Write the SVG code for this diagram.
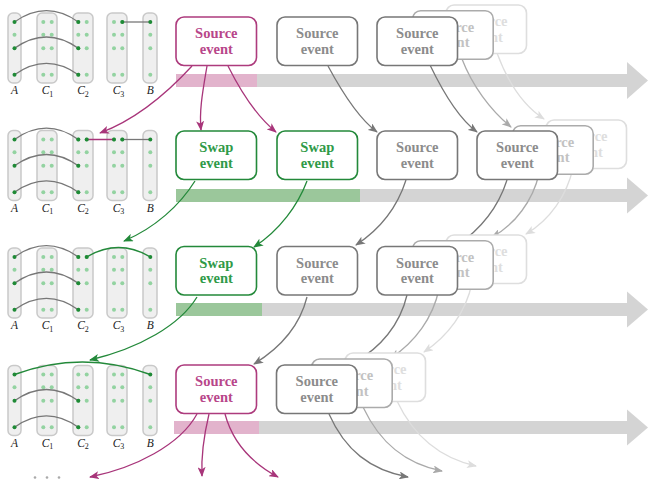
<svg xmlns="http://www.w3.org/2000/svg" xmlns:xlink="http://www.w3.org/1999/xlink" width="649" height="480" viewBox="0 0 649 480">
<style>
.col{fill:#efefef;stroke:#c9c9c9;stroke-width:1.5}
.ld{fill:#93d3a1}
.dd{fill:#1f8a36}
.arc{fill:none;stroke:#777;stroke-width:1.3}
.lab{font-family:"Liberation Serif",serif;font-style:italic;font-size:11.5px;fill:#222;text-anchor:middle}
.sub{font-style:normal;font-size:8px}
.bar{fill:#d4d4d4}
.box rect{fill:#fff;stroke-width:1.6}
.box text{font-family:"Liberation Serif",serif;font-weight:bold;font-size:14.5px;text-anchor:middle}
.mag rect{stroke:#ad3b7d}.mag text{fill:#b8468a}
.grn rect{stroke:#23893a}.grn text{fill:#2f9a48}
.dk rect{stroke:#777}.dk text{fill:#8c8c8c}
.md rect{stroke:#ababab}.md text{fill:#c2c2c2}
.lt rect{stroke:#dedede}.lt text{fill:#dedede}
.c{fill:none;stroke-width:1.3}
.cm{stroke:#a8357a;marker-end:url(#am)}
.cg{stroke:#23893a;marker-end:url(#ag)}
.cd{stroke:#777;marker-end:url(#ad)}
.cmid{stroke:#aaa;marker-end:url(#ami)}
.cl{stroke:#ddd;marker-end:url(#al)}
</style>
<defs>
<marker id="am" markerUnits="userSpaceOnUse" markerWidth="10" markerHeight="8" refX="9" refY="4" orient="auto"><path d="M0,0 L10,4 L0,8 L2.5,4 z" fill="#a8357a"/></marker>
<marker id="ag" markerUnits="userSpaceOnUse" markerWidth="10" markerHeight="8" refX="9" refY="4" orient="auto"><path d="M0,0 L10,4 L0,8 L2.5,4 z" fill="#23893a"/></marker>
<marker id="ad" markerUnits="userSpaceOnUse" markerWidth="10" markerHeight="8" refX="9" refY="4" orient="auto"><path d="M0,0 L10,4 L0,8 L2.5,4 z" fill="#777"/></marker>
<marker id="ami" markerUnits="userSpaceOnUse" markerWidth="10" markerHeight="8" refX="9" refY="4" orient="auto"><path d="M0,0 L10,4 L0,8 L2.5,4 z" fill="#aaa"/></marker>
<marker id="al" markerUnits="userSpaceOnUse" markerWidth="10" markerHeight="8" refX="9" refY="4" orient="auto"><path d="M0,0 L10,4 L0,8 L2.5,4 z" fill="#ddd"/></marker>
<g id="panel">
<rect class="col" x="8" y="0" width="13" height="70" rx="5"/>
<rect class="col" x="37" y="0" width="20" height="70" rx="5"/>
<rect class="col" x="73" y="0" width="20" height="70" rx="5"/>
<rect class="col" x="107" y="0" width="20" height="70" rx="5"/>
<rect class="col" x="143" y="0" width="14" height="70" rx="5"/>
<g class="ld">
<circle cx="14.5" cy="21.7" r="2"/>
<circle cx="43.3" cy="9" r="2"/><circle cx="51.7" cy="9" r="2"/><circle cx="43.3" cy="21.7" r="2"/><circle cx="51.7" cy="21.7" r="2"/><circle cx="43.3" cy="35.3" r="2"/><circle cx="51.7" cy="35.3" r="2"/><circle cx="43.3" cy="61.7" r="2"/><circle cx="51.7" cy="61.7" r="2"/>
<circle cx="78.3" cy="9" r="2"/><circle cx="86.7" cy="9" r="2"/><circle cx="78.3" cy="21.7" r="2"/><circle cx="86.7" cy="21.7" r="2"/><circle cx="78.3" cy="35.3" r="2"/><circle cx="86.7" cy="35.3" r="2"/><circle cx="78.3" cy="61.7" r="2"/><circle cx="86.7" cy="61.7" r="2"/>
<circle cx="114" cy="9" r="2"/><circle cx="122.3" cy="9" r="2"/><circle cx="114" cy="21.7" r="2"/><circle cx="122.3" cy="21.7" r="2"/><circle cx="114" cy="35.3" r="2"/><circle cx="122.3" cy="35.3" r="2"/><circle cx="114" cy="61.7" r="2"/><circle cx="122.3" cy="61.7" r="2"/>
<circle cx="150.3" cy="21.7" r="2"/><circle cx="150.3" cy="35.3" r="2"/><circle cx="150.3" cy="61.7" r="2"/>
</g>
<text class="lab" x="14.5" y="81">A</text>
<text class="lab" x="47.5" y="81">C<tspan class="sub" dy="2.5">1</tspan></text>
<text class="lab" x="83" y="81">C<tspan class="sub" dy="2.5">2</tspan></text>
<text class="lab" x="118.5" y="81">C<tspan class="sub" dy="2.5">3</tspan></text>
<text class="lab" x="150.3" y="81">B</text>
</g>
<path id="a1" class="arc" d="M14.5,9 Q46.4,-13.6 78.3,9"/>
<path id="a2" class="arc" d="M14.5,35.3 Q46.4,12.7 78.3,35.3"/>
<path id="a3" class="arc" d="M14.5,61.7 Q46.4,39 78.3,61.7"/>
</defs>

<g id="bars">
<rect class="bar" x="176" y="74" width="452" height="13"/><path class="bar" d="M627,62 L648,80.5 L627,99 z"/>
<rect x="176" y="74" width="81" height="13" fill="#e2b3cc"/>
<rect class="bar" x="176" y="189" width="452" height="13"/><path class="bar" d="M627,177.5 L648,195.5 L627,213.5 z"/>
<rect x="176" y="189" width="184" height="13" fill="#9bc79b"/>
<rect class="bar" x="176" y="303" width="452" height="13"/><path class="bar" d="M627,291.5 L648,309.5 L627,327.5 z"/>
<rect x="176" y="303" width="86" height="13" fill="#9bc79b"/>
<rect class="bar" x="174" y="421" width="454" height="13"/><path class="bar" d="M627,409.5 L648,427.5 L627,445.5 z"/>
<rect x="174" y="421" width="85" height="13" fill="#e2b3cc"/>
</g>

<g id="state1" transform="translate(0,13)">
<use xlink:href="#panel"/>
<use xlink:href="#a1"/><use xlink:href="#a2"/><use xlink:href="#a3"/>
<line class="arc" x1="122.3" y1="9" x2="150.3" y2="9"/>
<g class="dd"><circle cx="14.5" cy="9" r="2"/><circle cx="14.5" cy="35.3" r="2"/><circle cx="14.5" cy="61.7" r="2"/><circle cx="78.3" cy="9" r="2"/><circle cx="78.3" cy="35.3" r="2"/><circle cx="78.3" cy="61.7" r="2"/><circle cx="122.3" cy="9" r="2"/><circle cx="150.3" cy="9" r="2"/></g>
</g>
<g id="state2" transform="translate(0,130.5)">
<use xlink:href="#panel"/>
<use xlink:href="#a1"/><use xlink:href="#a2"/><use xlink:href="#a3"/>
<line x1="86.7" y1="9" x2="114" y2="9" stroke="#a8357a" stroke-width="1.5"/>
<line class="arc" x1="122.3" y1="9" x2="150.3" y2="9"/>
<g class="dd"><circle cx="14.5" cy="9" r="2"/><circle cx="14.5" cy="35.3" r="2"/><circle cx="14.5" cy="61.7" r="2"/><circle cx="78.3" cy="9" r="2"/><circle cx="78.3" cy="35.3" r="2"/><circle cx="78.3" cy="61.7" r="2"/><circle cx="86.7" cy="9" r="2"/><circle cx="114" cy="9" r="2"/><circle cx="122.3" cy="9" r="2"/><circle cx="150.3" cy="9" r="2"/></g>
</g>
<g id="state3" transform="translate(0,248)">
<use xlink:href="#panel"/>
<use xlink:href="#a1"/><use xlink:href="#a2"/><use xlink:href="#a3"/>
<path d="M86.7,9 Q118.5,-10 150.3,9" fill="none" stroke="#23893a" stroke-width="1.4"/>
<g class="dd"><circle cx="14.5" cy="9" r="2"/><circle cx="14.5" cy="35.3" r="2"/><circle cx="14.5" cy="61.7" r="2"/><circle cx="78.3" cy="9" r="2"/><circle cx="78.3" cy="35.3" r="2"/><circle cx="78.3" cy="61.7" r="2"/><circle cx="86.7" cy="9" r="2"/><circle cx="150.3" cy="9" r="2"/></g>
</g>
<g id="state4" transform="translate(0,365.5)">
<use xlink:href="#panel"/>
<use xlink:href="#a2"/><use xlink:href="#a3"/>
<path d="M14.5,9 Q82.4,-16 150.3,9" fill="none" stroke="#23893a" stroke-width="1.4"/>
<g class="dd"><circle cx="14.5" cy="9" r="2"/><circle cx="14.5" cy="35.3" r="2"/><circle cx="14.5" cy="61.7" r="2"/><circle cx="78.3" cy="35.3" r="2"/><circle cx="78.3" cy="61.7" r="2"/><circle cx="150.3" cy="9" r="2"/></g>
</g>
<g id="ellipsis" fill="#aaa"><circle cx="35" cy="477.5" r="1.3"/><circle cx="47" cy="477.5" r="1.3"/><circle cx="59" cy="477.5" r="1.3"/></g>

<g id="connectors">
<path class="c cm" d="M192,66 C170,90 140,118 100,133"/>
<path class="c cm" d="M207,66 C203,90 199,110 201,130"/>
<path class="c cm" d="M228,66 C240,90 255,115 276,132"/>
<path class="c cd" d="M328,66 C342,92 358,118 377,132"/>
<path class="c cd" d="M430,65 C442,90 458,118 477,132"/>
<path class="c cmid" d="M462,59 C472,85 490,110 511,127"/>
<path class="c cl" d="M497,53 C507,80 522,105 544,119"/>

<path class="c cg" d="M195,181 C180,205 155,228 124,241"/>
<path class="c cg" d="M307,181 C298,205 280,230 254,247"/>
<path class="c cd" d="M406,180 C398,205 382,228 356,245"/>
<path class="c cd" d="M507,180 C499,205 483,228 456,246"/>
<path class="c cmid" d="M539,174 C533,200 515,225 492,237"/>
<path class="c cl" d="M573,168 C567,195 550,220 526,234"/>

<path class="c cg" d="M197,297 C180,325 140,348 90,360"/>
<path class="c cd" d="M307,297 C300,325 280,348 254,364"/>
<path class="c cd" d="M407,295 C400,325 380,348 355,362"/>
<path class="c cmid" d="M439,289 C433,318 415,342 391,358"/>
<path class="c cl" d="M472,283 C466,312 448,336 424,352"/>

<path class="c cm" d="M197,414 C180,445 135,468 90,477"/>
<path class="c cm" d="M209,414 C204,435 201,455 202,476"/>
<path class="c cm" d="M225,414 C232,440 250,462 278,477"/>
<path class="c cd" d="M329,414 C345,450 370,470 408,477"/>
<path class="c cmid" d="M363,407 C380,443 405,464 442,471"/>
<path class="c cl" d="M397,401 C414,437 440,458 476,466"/>
</g>

<g id="r1b1" class="box mag"><rect x="176" y="17" width="80.5" height="48.5" rx="8"/><text x="216.3" y="38">Source</text><text x="216.3" y="53.5">event</text></g>
<g id="r1b2" class="box dk"><rect x="277" y="17" width="80.5" height="48.5" rx="8"/><text x="317.3" y="38">Source</text><text x="317.3" y="53.5">event</text></g>
<g id="r1b5" class="box lt"><rect x="446" y="5" width="80.5" height="48.5" rx="8"/><text x="486.3" y="26">Source</text><text x="486.3" y="41.5">event</text></g>
<g id="r1b4" class="box md"><rect x="412.7" y="10.7" width="80.5" height="48.5" rx="8"/><text x="453" y="31.7">Source</text><text x="453" y="47.2">event</text></g>
<g id="r1b3" class="box dk"><rect x="377" y="17" width="80.5" height="48.5" rx="8"/><text x="417.3" y="38">Source</text><text x="417.3" y="53.5">event</text></g>

<g id="r2b1" class="box grn"><rect x="176" y="131" width="80.5" height="48.5" rx="8"/><text x="216.3" y="152">Swap</text><text x="216.3" y="167.5">event</text></g>
<g id="r2b2" class="box grn"><rect x="277" y="131" width="80.5" height="48.5" rx="8"/><text x="317.3" y="152">Swap</text><text x="317.3" y="167.5">event</text></g>
<g id="r2b3" class="box dk"><rect x="377" y="131" width="80.5" height="48.5" rx="8"/><text x="417.3" y="152">Source</text><text x="417.3" y="167.5">event</text></g>
<g id="r2b6" class="box lt"><rect x="546" y="120" width="80.5" height="48.5" rx="8"/><text x="586.3" y="141">Source</text><text x="586.3" y="156.5">event</text></g>
<g id="r2b5" class="box md"><rect x="512.7" y="125.7" width="80.5" height="48.5" rx="8"/><text x="553" y="146.7">Source</text><text x="553" y="162.2">event</text></g>
<g id="r2b4" class="box dk"><rect x="477" y="131" width="80.5" height="48.5" rx="8"/><text x="517.3" y="152">Source</text><text x="517.3" y="167.5">event</text></g>

<g id="r3b1" class="box grn"><rect x="176" y="246.5" width="80.5" height="48.5" rx="8"/><text x="216.3" y="267.5">Swap</text><text x="216.3" y="283">event</text></g>
<g id="r3b2" class="box dk"><rect x="277" y="246.5" width="80.5" height="48.5" rx="8"/><text x="317.3" y="267.5">Source</text><text x="317.3" y="283">event</text></g>
<g id="r3b5" class="box lt"><rect x="446" y="235" width="80.5" height="48.5" rx="8"/><text x="486.3" y="256">Source</text><text x="486.3" y="271.5">event</text></g>
<g id="r3b4" class="box md"><rect x="412.7" y="240.7" width="80.5" height="48.5" rx="8"/><text x="453" y="261.7">Source</text><text x="453" y="277.2">event</text></g>
<g id="r3b3" class="box dk"><rect x="377" y="246.5" width="80.5" height="48.5" rx="8"/><text x="417.3" y="267.5">Source</text><text x="417.3" y="283">event</text></g>

<g id="r4b1" class="box mag"><rect x="176" y="365" width="80.5" height="48.5" rx="8"/><text x="216.3" y="386">Source</text><text x="216.3" y="401.5">event</text></g>
<g id="r4b4" class="box lt"><rect x="345" y="353" width="80.5" height="48.5" rx="8"/><text x="385.3" y="374">Source</text><text x="385.3" y="389.5">event</text></g>
<g id="r4b3" class="box md"><rect x="311.7" y="359" width="80.5" height="48.5" rx="8"/><text x="352" y="380">Source</text><text x="352" y="395.5">event</text></g>
<g id="r4b2" class="box dk"><rect x="276.5" y="365" width="80.5" height="48.5" rx="8"/><text x="316.8" y="386">Source</text><text x="316.8" y="401.5">event</text></g>
</svg>
